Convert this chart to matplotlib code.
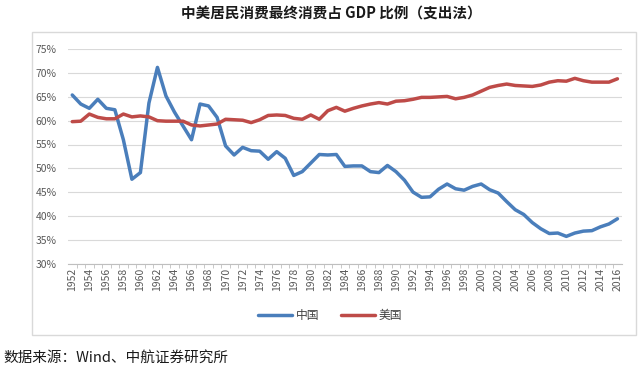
import matplotlib
matplotlib.use("Agg")
import matplotlib.pyplot as plt
from matplotlib.patches import Rectangle
from matplotlib.ticker import FuncFormatter, MultipleLocator

plt.rcParams['font.family'] = ['Noto Sans CJK SC', 'DejaVu Sans']

years = list(range(1952, 2017))

# 中国 居民消费占GDP比例 (%)
china = [65.4, 63.5, 62.6, 64.5, 62.6, 62.3, 56.0, 47.7, 49.1, 63.7,
         71.2, 65.2, 61.8, 58.9, 56.0, 63.5, 63.1, 60.7, 54.7, 52.8,
         54.4, 53.7, 53.6, 51.9, 53.5, 52.1, 48.5, 49.3, 51.1, 52.9,
         52.8, 52.9, 50.4, 50.5, 50.5, 49.3, 49.1, 50.6, 49.3, 47.5,
         45.0, 43.9, 44.0, 45.6, 46.7, 45.7, 45.4, 46.2, 46.7, 45.5,
         44.8, 43.0, 41.3, 40.3, 38.6, 37.3, 36.3, 36.4, 35.7, 36.4,
         36.8, 36.9, 37.7, 38.3, 39.4]

# 美国 居民消费占GDP比例 (%)
usa = [59.8, 59.9, 61.4, 60.7, 60.4, 60.4, 61.4, 60.8, 61.0, 60.8,
       60.0, 59.9, 59.9, 59.9, 59.1, 58.9, 59.1, 59.3, 60.3, 60.2,
       60.1, 59.6, 60.2, 61.1, 61.2, 61.1, 60.5, 60.3, 61.2, 60.3,
       62.1, 62.8, 62.0, 62.6, 63.1, 63.5, 63.8, 63.5, 64.1, 64.2,
       64.5, 64.9, 64.9, 65.0, 65.1, 64.6, 64.9, 65.4, 66.2, 67.0,
       67.4, 67.7, 67.4, 67.3, 67.2, 67.5, 68.1, 68.4, 68.3, 68.9,
       68.4, 68.1, 68.1, 68.1, 68.8]

series_names = ['中国', '美国']
series_colors = ['#4A7EBB', '#BE4B48']

fig = plt.figure(figsize=(6.41, 3.69), dpi=100)
fig.patch.set_facecolor('white')

# outer chart frame
fig.add_artist(Rectangle((32 / 641, 1 - 335 / 369), (636 - 32) / 641, (335 - 32) / 369,
                         transform=fig.transFigure, fill=False,
                         edgecolor='#D9D9D9', linewidth=1.0))

ax = fig.add_axes([68 / 641, 1 - 263.5 / 369, (621.7 - 68) / 641, (263.5 - 49.3) / 369])

for vals, name, col in zip([china, usa], series_names, series_colors):
    ax.plot(years, vals, color=col, linewidth=2.5, label=name,
            solid_joinstyle='round', solid_capstyle='round')

ax.set_xlim(1951.5, 2016.5)
ax.set_ylim(30, 75)
ax.yaxis.set_major_locator(MultipleLocator(5))
ax.yaxis.set_major_formatter(FuncFormatter(lambda v, p: f'{v:.0f}%'))
ax.grid(axis='y', color='#D9D9D9', linewidth=0.8)
ax.set_axisbelow(True)

ax.set_xticks(years[::2])
ax.set_xticklabels([str(y) for y in years[::2]], rotation=90)
ax.set_xticks([y + 0.5 for y in years[:-1]], minor=True)

for s in ['top', 'right', 'left']:
    ax.spines[s].set_visible(False)
ax.spines['bottom'].set_color('#BFBFBF')
ax.spines['bottom'].set_linewidth(0.8)

ax.tick_params(axis='y', length=0, labelsize=7.5, labelcolor='#595959', pad=8)
ax.tick_params(axis='x', which='major', length=0, labelsize=7.5, labelcolor='#595959', pad=3)
ax.tick_params(axis='x', which='minor', length=3, color='#BFBFBF')

fig.legend(loc='center', bbox_to_anchor=(330 / 641, 1 - 316 / 369), ncol=2,
           frameon=False, fontsize=8.5, handlelength=2.9, columnspacing=1.8,
           handletextpad=0.3, labelcolor='#404040')

fig.text(331 / 641, 1 - 14 / 369, '中美居民消费最终消费占 GDP 比例（支出法）',
         ha='center', va='center', fontsize=10.5, fontweight='bold', color='#1a1a1a')

fig.text(3 / 641, 1 - 358 / 369, '数据来源：Wind、中航证券研究所',
         ha='left', va='center', fontsize=10.5, style='italic', color='#1a1a1a')

fig.savefig('out.png', dpi=100, facecolor='white')
plt.close(fig)
